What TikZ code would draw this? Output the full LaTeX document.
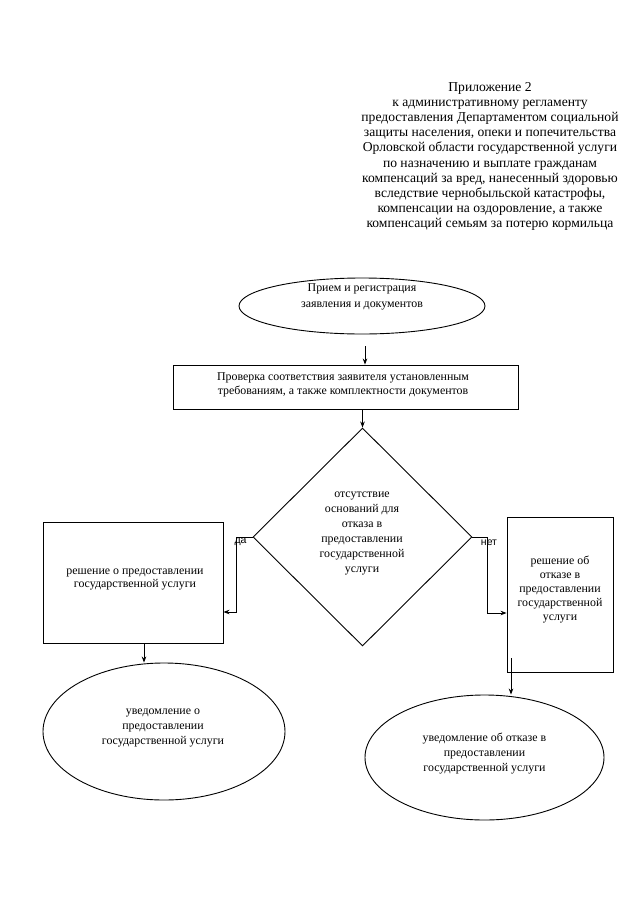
\documentclass[tikz,border=0pt]{standalone}
\usepackage{fontspec}
\setmainfont{Liberation Serif}
\newfontfamily\labelfont{Liberation Sans}
\usetikzlibrary{shapes.geometric,arrows.meta}
\begin{document}
\begin{tikzpicture}[x=1pt,y=-1pt,
  shapeline/.style={draw=black,line width=0.9pt},
  ellbox/.style={shapeline,ellipse,inner sep=0pt},
  rectbox/.style={shapeline,rectangle,inner sep=0pt},
  decbox/.style={shapeline,diamond,inner sep=0pt},
  boxtext/.style={align=center,inner sep=0pt,font=\fontsize{11.9}{#1}\selectfont},
  boxtext/.default=14.5,
  flow/.style={draw=black,line width=0.8pt,-{Stealth[length=6pt,width=4.5pt]}},
  branchlabel/.style={inner sep=0pt,font=\labelfont\fontsize{10.5}{12}\selectfont}
]
\useasboundingbox[fill=white] (0,0) rectangle (640,905);

% header
\node[align=center,inner sep=0pt,font=\fontsize{13.6}{15.2}\selectfont] (header) at (490,156.5)
{Приложение 2\\к административному регламенту\\предоставления Департаментом социальной\\защиты населения, опеки и попечительства\\Орловской области государственной услуги\\по назначению и выплате гражданам\\компенсаций за вред, нанесенный здоровью\\вследствие чернобыльской катастрофы,\\компенсации на оздоровление, а также\\компенсаций семьям за потерю кормильца};

% shapes
\node[ellbox,minimum width=246pt,minimum height=56pt] (start) at (362,306) {};
\node[rectbox,minimum width=345pt,minimum height=44pt] (check) at (345.5,387) {};
\node[decbox,minimum width=219pt,minimum height=218pt] (dec) at (362.5,537) {};
\node[rectbox,minimum width=180pt,minimum height=121pt] (yes) at (133,582.5) {};
\node[rectbox,minimum width=106pt,minimum height=155pt] (no) at (560,594.5) {};
\node[ellbox,minimum width=242pt,minimum height=137pt] (yesell) at (164,731.5) {};
\node[ellbox,minimum width=239pt,minimum height=125pt] (noell) at (484.5,757.5) {};

% texts
\node[boxtext=16.5] (tstart) at (362,297) {Прием и регистрация\\заявления и документов};
\node[boxtext=14] (tcheck) at (343,385) {Проверка соответствия заявителя установленным\\требованиям, а также комплектности документов};
\node[boxtext=15] (tdec) at (362,533.5) {отсутствие\\оснований для\\отказа в\\предоставлении\\государственной\\услуги};
\node[boxtext=13.5] (tyes) at (135,579.5) {решение о предоставлении\\государственной услуги};
\node[boxtext=14] (tno) at (560,590) {решение об\\отказе в\\предоставлении\\государственной\\услуги};
\node[boxtext=15] (tyesell) at (163,728) {уведомление о\\предоставлении\\государственной услуги};
\node[boxtext=15] (tnoell) at (484.5,754) {уведомление об отказе в\\предоставлении\\государственной услуги};

% connectors
\coordinate (a1) at (365,346);
\draw[flow] (a1) -- (a1 |- check.north);
\draw[flow] (dec.north |- check.south) -- (dec.north);
\draw[flow] (dec.west) -- ++(-16,0) |- ([yshift=-29.5pt]yes.east);
\draw[flow] (dec.east) -- ++(15,0) |- ([yshift=-18.5pt]no.west);
\coordinate (ld) at (144,643);
\draw[flow] (ld) -- (ld |- yesell.north);
\coordinate (rd) at (511,658);
\draw[flow] (rd) -- (rd |- noell.north);

% branch labels
\node[branchlabel] (lyes) at (240.5,542) {да};
\node[branchlabel] (lno) at (489,543) {нет};
\end{tikzpicture}
\end{document}
